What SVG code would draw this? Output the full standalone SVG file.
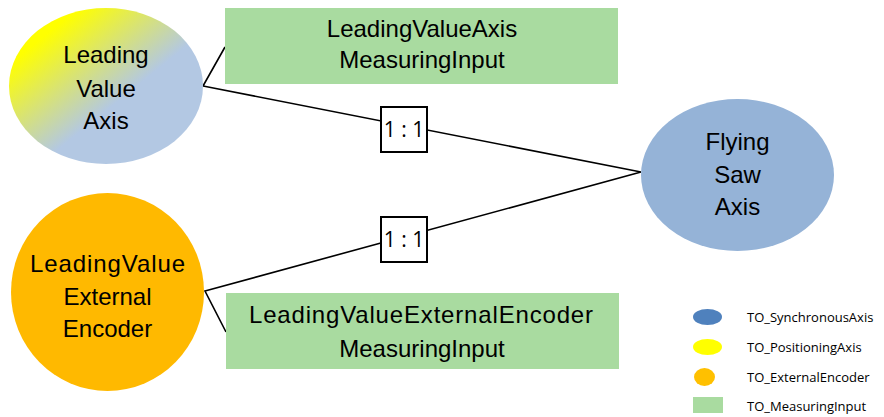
<svg xmlns="http://www.w3.org/2000/svg" width="884" height="417" viewBox="0 0 884 417">
<defs>
<linearGradient id="gY" x1="0" y1="0" x2="1" y2="1">
<stop offset="0.18" stop-color="#FFFF00"/>
<stop offset="0.58" stop-color="#B3C8E3"/>
<stop offset="1" stop-color="#B3C8E3"/>
</linearGradient>
<style>
.t{font-family:"Liberation Sans",Arial,sans-serif;font-size:24px;fill:#000;text-anchor:middle}
.r{font-family:"Open Sans","Liberation Sans",sans-serif;font-size:21px;fill:#000;text-anchor:middle}
.lg{font-family:"Open Sans","Liberation Sans",sans-serif;font-size:13px;fill:#000}
.ln{stroke:#000;stroke-width:1.6;fill:none}
.box{fill:#fff;stroke:#000;stroke-width:2}
.mi{fill:#A9DBA0}
</style>
</defs>
<rect width="884" height="417" fill="#fff"/>
<g id="connectors">
<polyline class="ln" points="225,47 203,86 641,172 205,291 226,332"/>
</g>
<g id="lva">
<ellipse cx="106" cy="86" rx="97" ry="78" fill="url(#gY)"/>
<text class="t" x="106" y="63">Leading</text>
<text class="t" x="106" y="97">Value</text>
<text class="t" x="106" y="129">Axis</text>
</g>
<g id="lvaMI">
<rect class="mi" x="225" y="8" width="393" height="76"/>
<text class="t" x="422" y="37">LeadingValueAxis</text>
<text class="t" x="422" y="68">MeasuringInput</text>
</g>
<g id="lvee">
<ellipse cx="107.5" cy="292" rx="96.5" ry="99" fill="#FFB900"/>
<text class="t" x="107.5" y="272" textLength="155" lengthAdjust="spacing">LeadingValue</text>
<text class="t" x="107.5" y="305">External</text>
<text class="t" x="107.5" y="337">Encoder</text>
</g>
<g id="lveeMI">
<rect class="mi" x="226" y="293" width="393" height="76"/>
<text class="t" x="421" y="323" textLength="344" lengthAdjust="spacing">LeadingValueExternalEncoder</text>
<text class="t" x="422" y="357">MeasuringInput</text>
</g>
<g id="fsa">
<ellipse cx="737.5" cy="175" rx="96.5" ry="76" fill="#95B3D7"/>
<text class="t" x="737.5" y="150">Flying</text>
<text class="t" x="737.5" y="183">Saw</text>
<text class="t" x="737.5" y="215">Axis</text>
</g>
<g id="ratio1">
<rect class="box" x="381" y="107" width="46" height="45"/>
<text class="r" x="404" y="137">1 : 1</text>
</g>
<g id="ratio2">
<rect class="box" x="381" y="217" width="46" height="45"/>
<text class="r" x="404" y="247">1 : 1</text>
</g>
<g id="legend">
<ellipse cx="707.5" cy="317" rx="14.5" ry="8" fill="#4F81BD"/>
<text class="lg" x="747" y="322">TO_SynchronousAxis</text>
<ellipse cx="707.5" cy="347" rx="14.5" ry="8" fill="#FFFF00"/>
<text class="lg" x="747" y="352">TO_PositioningAxis</text>
<ellipse cx="704.5" cy="377" rx="10.5" ry="9" fill="#FFC000"/>
<text class="lg" x="747" y="382">TO_ExternalEncoder</text>
<rect x="693" y="397" width="30" height="16" fill="#A9DBA0"/>
<text class="lg" x="747" y="411">TO_MeasuringInput</text>
</g>
</svg>
